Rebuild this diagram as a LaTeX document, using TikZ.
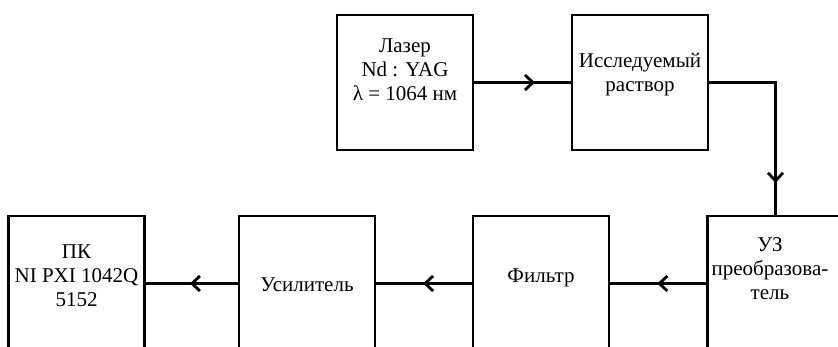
\documentclass[tikz,border=0pt]{standalone}
\usepackage{fontspec}
\setmainfont{Liberation Serif}
\usetikzlibrary{arrows.meta}
\usetikzlibrary{decorations.markings}

\begin{document}
\begin{tikzpicture}[x=1pt,y=1pt,
  bloco/.style={draw,line width=2.8pt,minimum width=136pt,minimum height=135pt,inner sep=0pt},
  texto/.style={align=center,font=\fontsize{21}{24}\selectfont,inner sep=0pt},
  seta/.style={line width=2.8pt,postaction={decorate},
    decoration={markings,mark=at position #1 with {\arrow{Straight Barb[length=8pt,width=15pt]}}}}]

\useasboundingbox (0,0) rectangle (838,347);
\clip (0,0) rectangle (838,347);

% blocos de cima
\node[bloco] (laser) at (405,264.5) {};
\node[bloco] (solucao) at (640,264.5) {};

% blocos de baixo
\node[bloco] (pc) at (76.5,63.5) {};
\node[bloco] (amp) at (307,63.5) {};
\node[bloco] (filtro) at (541,63.5) {};
\node[bloco] (uz) at (775.5,63.5) {};

% textos
\node[texto] (tlaser) at ([yshift=12.5]laser.center) {Лазер\\Nd : YAG\\λ = 1064 нм};
\node[texto] (tsolucao) at ([yshift=8]solucao.center) {Исследуемый\\раствор};
\node[texto] (tpc) at ([yshift=7.5]pc.center) {ПК\\NI PXI 1042Q\\5152};
\node[texto] (tamp) at ([yshift=-1.5]amp.center) {Усилитель};
\node[texto] (tfiltro) at ([yshift=5.5]filtro.center) {Фильтр};
\node[texto] (tuz) at ([xshift=-5.5,yshift=14.5]uz.center) {УЗ\\преобразова-\\тель};

% ligacoes
\draw[seta=0.63] (laser.east) -- (solucao.west);
\draw[seta=0.84] (solucao.east) -| (uz.north);
\draw[seta=0.51] (uz.west) -- (filtro.east);
\draw[seta=0.51] (filtro.west) -- (amp.east);
\draw[seta=0.52] (amp.west) -- (pc.east);

\end{tikzpicture}
\end{document}
